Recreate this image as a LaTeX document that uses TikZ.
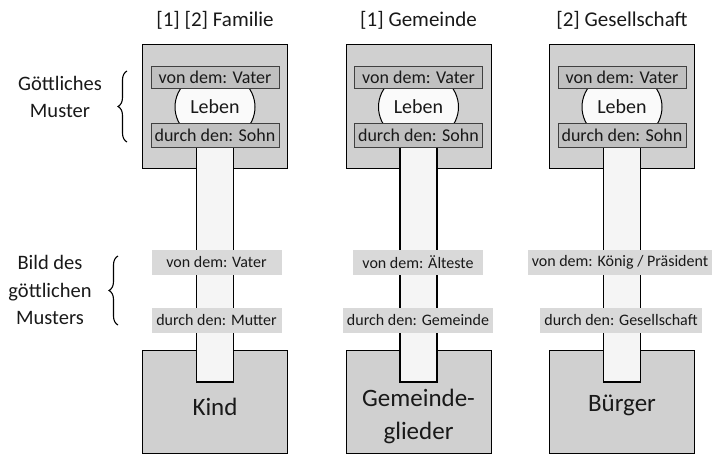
\documentclass[tikz,border=0pt]{standalone}
\usepackage{fontspec}
\setmainfont{Carlito}
\usetikzlibrary{shapes.geometric,decorations.pathreplacing}
\definecolor{boxgray}{RGB}{208,208,208}
\definecolor{innergray}{RGB}{192,192,192}
\definecolor{labelgray}{RGB}{217,217,217}
\definecolor{stemfill}{RGB}{245,245,245}
\definecolor{lebenfill}{RGB}{250,250,250}
\definecolor{txt}{RGB}{25,25,25}
\begin{document}
\begin{tikzpicture}[x=1pt,y=-1pt,
  every node/.style={text=txt},
  outerbox/.style={rectangle,draw=black,line width=1pt,fill=boxgray,minimum width=145pt,inner sep=0pt},
  innerbox/.style={rectangle,draw=black!75,line width=0.8pt,fill=innergray,minimum width=128pt,inner sep=0pt,font=\fontsize{18}{20}\selectfont},
  lebenshape/.style={ellipse,draw=black,line width=1pt,fill=lebenfill,minimum width=80pt,minimum height=72pt,inner sep=0pt,font=\fontsize{20}{22}\selectfont},
  stemrect/.style={rectangle,draw=black,line width=1.1pt,fill=stemfill,minimum width=37pt,inner sep=0pt},
  lowlabel/.style={rectangle,fill=labelgray,minimum height=25pt,minimum width=130pt,inner xsep=4pt,inner ysep=0pt,font=\fontsize{16}{18}\selectfont},
  titletext/.style={font=\fontsize{21}{25}\selectfont},
  sidetext/.style={font=\fontsize{20.5}{27.5}\selectfont,align=center},
  bigtext/.style={font=\fontsize{25}{33}\selectfont,align=center},
  bracestyle/.style={draw=black,line width=1.1pt,decorate,decoration={brace,amplitude=9pt}}
]
\useasboundingbox (0,0) rectangle (716,455);
\foreach \cx/\i in {215/1,418.5/2,622/3}{
  \node[outerbox,minimum height=124pt] (top\i) at (\cx,106) {};
  \node[outerbox,minimum height=103pt] (bot\i) at (\cx,401.5) {};
  \node[stemrect,minimum height=235pt] (stem\i) at (\cx,264.5) {};
  \node[lebenshape] (leben\i) at (\cx,107) {Leben};
  \node[innerbox,minimum height=22pt] (von\i) at (\cx,77) {von dem: Vater};
  \node[innerbox,minimum height=24pt] (durch\i) at (\cx,135) {durch den: Sohn};
}
% titles
\node[titletext] (t1) at (215,20) {[1] [2] Familie};
\node[titletext] (t2) at (418.5,20) {[1] Gemeinde};
\node[titletext] (t3) at (622,20) {[2] Gesellschaft};
% lower labels
\node[lowlabel] (lv1) at (216.5,262) {von dem: Vater};
\node[lowlabel] (ld1) at (216.5,320) {durch den: Mutter};
\node[lowlabel] (lv2) at (418,262) {von dem: Älteste};
\node[lowlabel] (ld2) at (418,320) {durch den: Gemeinde};
\node[lowlabel] (lv3) at (620,262) {von dem: König / Präsident};
\node[lowlabel] (ld3) at (621,320) {durch den: Gesellschaft};
% bottom texts
\node[bigtext] (b1) at (215,407) {Kind};
\node[bigtext] (b2) at (418.5,416) {Gemeinde-\\glieder};
\node[bigtext] (b3) at (622,405) {Bürger};
% side labels
\node[sidetext] (s1) at (60,97) {Göttliches\\Muster};
\node[sidetext] (s2) at (50,290) {Bild des\\göttlichen\\Musters};
\coordinate (br1a) at (127,142);
\coordinate (br1b) at (127,71);
\coordinate (br2a) at (118,325);
\coordinate (br2b) at (118,256);
\draw[bracestyle] (br1a) -- (br1b);
\draw[bracestyle] (br2a) -- (br2b);
\end{tikzpicture}
\end{document}
